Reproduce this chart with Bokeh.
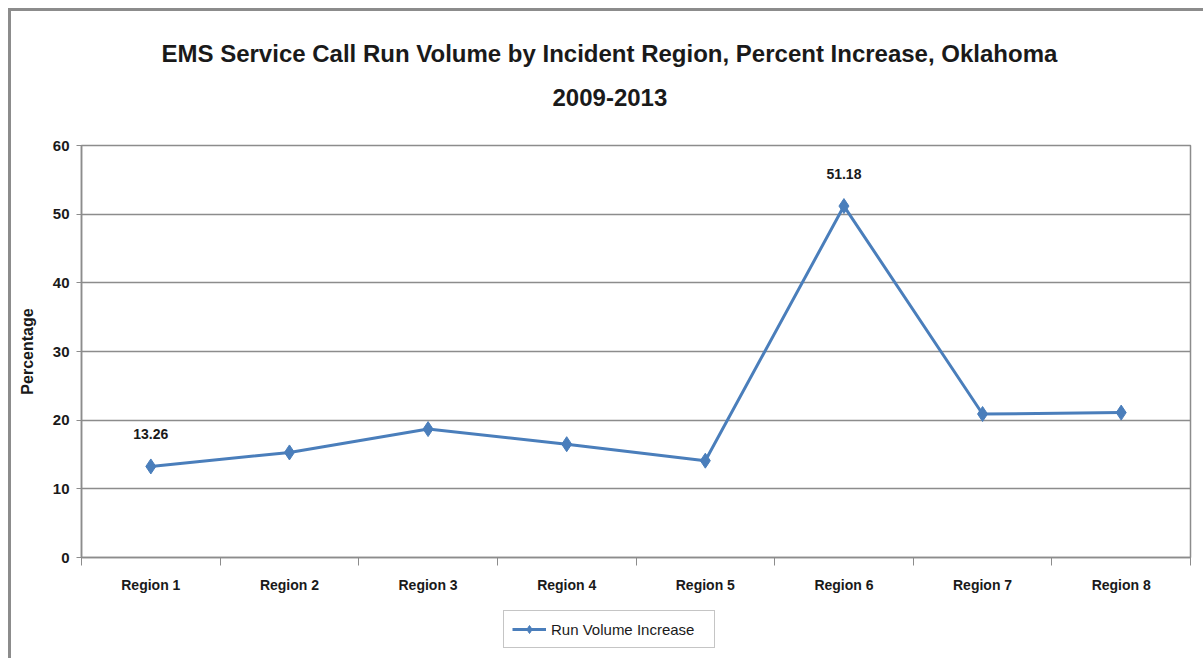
from bokeh.plotting import figure
from bokeh.layouts import column
from bokeh.models import (ColumnDataSource, FixedTicker, Legend, LegendItem, Title, LabelSet)
from bokeh.core.properties import value
from bokeh.embed import file_html
from bokeh.resources import INLINE

regions = ["Region 1", "Region 2", "Region 3", "Region 4", "Region 5", "Region 6", "Region 7", "Region 8"]
increase = [13.26, 15.3, 18.7, 16.5, 14.1, 51.18, 20.9, 21.1]
shown_labels = ["13.26", "", "", "", "", "51.18", "", ""]
y_ticks = [0, 10, 20, 30, 40, 50, 60]
series_name = "Run Volume Increase"

FONT = "Liberation Sans"
GRAY = "#8c8c8c"
BLUE = "#4a7ebb"
TXT = "#1a1a1a"

pos = [i + 0.5 for i in range(len(regions))]
src = ColumnDataSource(dict(x=pos, y=increase, lab=shown_labels))

p = figure(width=1195, height=596, output_backend="svg", toolbar_location=None,
           x_range=(0, len(regions)), y_range=(0, 60),
           min_border_left=73, min_border_right=13, min_border_top=137, min_border_bottom=47)
p.border_fill_color = None
p.background_fill_color = "white"

r_line = p.line("x", "y", source=src, line_color=BLUE, line_width=3)
r_pts = p.scatter("x", "y", source=src, marker="diamond", size=15, fill_color=BLUE, line_color=BLUE)

labels = LabelSet(x="x", y="y", text="lab", source=src, y_offset=27, text_align="center",
                  text_baseline="alphabetic", text_font=value(FONT), text_font_size="14px",
                  text_font_style="bold", text_color=TXT)
p.add_layout(labels)

# axes
p.xaxis.ticker = FixedTicker(ticks=pos, minor_ticks=list(range(len(regions) + 1)))
p.xaxis.major_label_overrides = {v: r for v, r in zip(pos, regions)}
p.xaxis.major_tick_line_color = None
p.xaxis.minor_tick_line_color = GRAY
p.xaxis.minor_tick_out = 8
p.xaxis.minor_tick_in = 0
p.xaxis.axis_line_color = GRAY
p.xaxis.axis_line_width = 1.5
p.xaxis.major_label_text_font = FONT
p.xaxis.major_label_text_font_size = "14px"
p.xaxis.major_label_text_font_style = "bold"
p.xaxis.major_label_text_color = TXT
p.xaxis.major_label_standoff = 11

p.yaxis.ticker = FixedTicker(ticks=y_ticks)
p.yaxis.axis_line_color = GRAY
p.yaxis.axis_line_width = 1.5
p.yaxis.major_tick_line_color = GRAY
p.yaxis.major_tick_out = 5
p.yaxis.major_tick_in = 0
p.yaxis.minor_tick_line_color = None
p.yaxis.major_label_text_font = FONT
p.yaxis.major_label_text_font_size = "15px"
p.yaxis.major_label_text_font_style = "bold"
p.yaxis.major_label_text_color = TXT
p.yaxis.major_label_standoff = 7
p.yaxis.axis_label = "Percentage"
p.yaxis.axis_label_text_font = FONT
p.yaxis.axis_label_text_font_size = "16px"
p.yaxis.axis_label_text_font_style = "bold"
p.yaxis.axis_label_text_color = TXT
p.yaxis.axis_label_standoff = 14

p.xgrid.grid_line_color = None
p.ygrid.grid_line_color = GRAY
p.ygrid.grid_line_width = 1.5
p.outline_line_color = GRAY
p.outline_line_width = 1.5

p.title = None
p.add_layout(Title(text="2009-2013", align="left", text_font=FONT, text_font_size="24px",
                   text_font_style="bold", text_color=TXT, standoff=79, offset=471), "above")
p.add_layout(Title(text="EMS Service Call Run Volume by Incident Region, Percent Increase, Oklahoma",
                   align="left", text_font=FONT, text_font_size="24px", text_font_style="bold",
                   text_color=TXT, standoff=-38, offset=80), "above")

# legend strip below the chart (same series styling)
q = figure(width=1195, height=54, output_backend="svg", toolbar_location=None,
           x_axis_type=None, y_axis_type=None, min_border=0,
           x_range=(0, 1), y_range=(0, 1))
q.border_fill_color = None
q.background_fill_color = None
q.outline_line_color = None
q.xgrid.grid_line_color = None
q.ygrid.grid_line_color = None
lg_src = ColumnDataSource(dict(x=[-5.0], y=[-5.0]))
lg_line = q.line("x", "y", source=lg_src, line_color=BLUE, line_width=3)
lg_pts = q.scatter("x", "y", source=lg_src, marker="diamond", size=11, fill_color=BLUE, line_color=BLUE)
legend = Legend(items=[LegendItem(label=series_name, renderers=[lg_line, lg_pts])],
                location=(422, 10), orientation="horizontal",
                label_text_font=FONT, label_text_font_size="15px", label_text_color=TXT,
                border_line_color=GRAY, border_line_width=1.5, glyph_width=34, padding=8,
                label_standoff=5, label_width=155, margin=0, background_fill_color="white")
q.add_layout(legend, "center")

layout = column(p, q, spacing=0)
layout.styles = {"margin": "8px 0 0 8px", "box-shadow": "inset 3px 3px 0 0 #8c8c8c"}

open("out.html", "w").write(file_html(layout, INLINE))
